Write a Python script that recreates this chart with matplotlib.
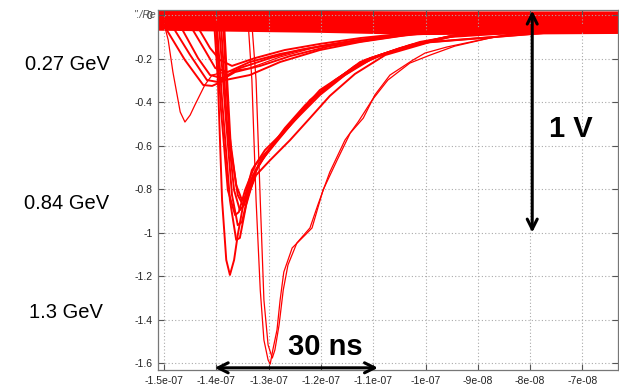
import numpy as np
import matplotlib.pyplot as plt

# oscilloscope traces, time in ns, amplitude in V
t_027_thin = [-151.1, -150.2, -149.2, -148.3, -146.9, -146.0, -145.0, -144.1, -142.2, -140.8,
              -138.3, -133.6, -127.8, -120.2, -112.5, -104.9, -95.3, -85.8, -63.0]
v_027_thin = [-0.02, -0.02, -0.115, -0.262, -0.446, -0.492, -0.46, -0.414, -0.322, -0.276,
              -0.262, -0.244, -0.193, -0.143, -0.115, -0.092, -0.069, -0.055, -0.046]

t_027_a = [-151.1, -150.4, -146.0, -142.5, -140.8, -138.3, -133.6, -127.8, -120.2, -112.5, -104.9, -95.3, -63.0]
v_027_a = [-0.023, -0.032, -0.207, -0.322, -0.326, -0.299, -0.276, -0.216, -0.161, -0.124, -0.097, -0.069, -0.046]
t_027_b = [-151.1, -148.9, -145.0, -141.8, -139.7, -136.4, -131.6, -125.9, -118.3, -110.6, -101.1, -63.0]
v_027_b = [-0.023, -0.032, -0.184, -0.299, -0.308, -0.262, -0.234, -0.189, -0.143, -0.115, -0.083, -0.046]
t_027_c = [-151.1, -147.3, -143.5, -141.2, -138.9, -135.5, -129.7, -124.0, -116.3, -108.7, -99.1, -63.0]
v_027_c = [-0.023, -0.032, -0.198, -0.276, -0.290, -0.244, -0.198, -0.161, -0.129, -0.101, -0.074, -0.046]
t_027_d = [-151.1, -145.4, -142.2, -140.2, -137.8, -133.6, -127.8, -122.1, -114.4, -104.9, -63.0]
v_027_d = [-0.023, -0.032, -0.161, -0.244, -0.262, -0.216, -0.179, -0.152, -0.120, -0.092, -0.051]
t_027_e = [-151.1, -143.9, -141.2, -139.3, -137.0, -132.6, -126.9, -120.2, -112.5, -101.1, -63.0]
v_027_e = [-0.023, -0.041, -0.152, -0.207, -0.234, -0.198, -0.161, -0.133, -0.106, -0.078, -0.051]

t_084_0 = [-151.1, -140.4, -139.7, -138.9, -138.1, -137.4, -136.6, -135.9, -134.7, -133.2,
           -130.7, -127.8, -124.0, -120.2, -114.4, -108.7, -101.1, -91.5, -63.0]
v_084_0 = [-0.032, -0.041, -0.299, -0.851, -1.126, -1.195, -1.126, -1.011, -0.851, -0.713,
           -0.621, -0.552, -0.446, -0.345, -0.253, -0.184, -0.124, -0.083, -0.051]
t_084_1 = [-151.1, -139.9, -138.9, -137.4, -136.2, -135.5, -134.3, -132.4, -129.7, -126.9,
           -123.0, -118.3, -112.5, -104.9, -95.3, -63.0]
v_084_1 = [-0.032, -0.041, -0.391, -0.851, -1.034, -1.025, -0.874, -0.713, -0.611, -0.520,
           -0.414, -0.322, -0.216, -0.152, -0.097, -0.051]
t_084_2 = [-151.1, -139.5, -138.3, -137.0, -135.9, -135.1, -133.9, -132.0, -129.3, -125.9,
           -122.1, -117.3, -111.6, -103.0, -93.4, -63.0]
v_084_2 = [-0.032, -0.041, -0.437, -0.828, -0.966, -0.952, -0.828, -0.690, -0.598, -0.506,
           -0.391, -0.299, -0.207, -0.138, -0.087, -0.051]
t_084_3 = [-151.1, -139.1, -138.0, -136.6, -135.5, -134.7, -133.6, -131.3, -128.2, -125.0,
           -121.1, -116.3, -110.6, -102.0, -91.5, -63.0]
v_084_3 = [-0.032, -0.041, -0.483, -0.805, -0.897, -0.874, -0.768, -0.667, -0.575, -0.483,
           -0.377, -0.290, -0.198, -0.133, -0.083, -0.051]
t_084_4 = [-151.1, -138.7, -137.6, -136.2, -135.1, -134.1, -133.0, -130.7, -127.8, -124.0,
           -120.2, -115.4, -109.7, -101.1, -63.0]
v_084_4 = [-0.032, -0.041, -0.529, -0.782, -0.851, -0.832, -0.736, -0.644, -0.556, -0.460,
           -0.368, -0.276, -0.193, -0.129, -0.055]
t_084_5 = [-151.1, -140.1, -139.1, -137.8, -136.4, -135.7, -134.5, -132.6, -130.1, -127.2,
           -123.6, -119.2, -113.5, -105.8, -95.3, -63.0]
v_084_5 = [-0.032, -0.041, -0.437, -0.805, -0.920, -0.906, -0.805, -0.690, -0.621, -0.543,
           -0.437, -0.336, -0.234, -0.161, -0.101, -0.051]
t_084_6 = [-151.1, -138.5, -137.2, -135.9, -134.9, -133.9, -132.4, -129.7, -125.9, -122.1,
           -118.3, -113.5, -107.7, -99.1, -63.0]
v_084_6 = [-0.032, -0.046, -0.621, -0.828, -0.874, -0.828, -0.736, -0.667, -0.575, -0.474,
           -0.372, -0.271, -0.184, -0.124, -0.055]

t_13_a = [-151.1, -133.9, -133.2, -132.4, -131.6, -130.9, -130.1, -129.7, -129.2, -128.4,
          -127.8, -127.1, -125.5, -123.0, -121.7, -119.6, -116.9, -114.4, -111.9, -109.7,
          -106.8, -102.4, -100.1, -95.9, -89.6, -81.9, -63.0]
v_13_a = [-0.032, -0.041, -0.299, -0.851, -1.264, -1.494, -1.586, -1.605, -1.540, -1.448,
          -1.310, -1.182, -1.071, -1.011, -0.979, -0.805, -0.667, -0.543, -0.474, -0.368,
          -0.276, -0.207, -0.175, -0.147, -0.115, -0.078, -0.055]
t_13_b = [-151.1, -133.2, -132.4, -131.6, -130.9, -130.1, -129.3, -128.8, -128.0, -127.2,
          -126.3, -124.6, -122.1, -120.6, -118.3, -115.4, -112.9, -110.2, -107.2, -103.0,
          -99.1, -94.4, -87.7, -80.0, -63.0]
v_13_b = [-0.032, -0.041, -0.299, -0.851, -1.310, -1.517, -1.577, -1.540, -1.425, -1.264,
          -1.149, -1.048, -0.979, -0.874, -0.722, -0.575, -0.492, -0.391, -0.299, -0.221,
          -0.184, -0.143, -0.106, -0.074, -0.055]

# noisy baseline band
band_t = [-151.5, -120.0, -100.0, -63.0]
band_hi = [0.018, 0.016, 0.014, 0.014]
band_lo = [-0.065, -0.075, -0.085, -0.08]

xticks = [-150, -140, -130, -120, -110, -100, -90, -80, -70]
xtick_labels = ['-1.5e-07', '-1.4e-07', '-1.3e-07', '-1.2e-07', '-1.1e-07',
                '-1e-07', '-9e-08', '-8e-08', '-7e-08']
yticks = [0, -0.2, -0.4, -0.6, -0.8, -1.0, -1.2, -1.4, -1.6]
ytick_labels = ['0', '-0.2', '-0.4', '-0.6', '-0.8', '-1', '-1.2', '-1.4', '-1.6']

plt.rcParams['font.family'] = ['Liberation Sans', 'DejaVu Sans']

W, H = 619, 389
fig = plt.figure(figsize=(W / 100, H / 100), dpi=100)
ax = fig.add_axes([158 / W, 1 - 370 / H, 460 / W, 360 / H])

band = ax.fill_between(band_t, band_lo, band_hi, color='red', lw=1.5, edgecolor='red')
band.set_sketch_params(scale=3, length=3, randomness=3)

group_traces = [(t_027_a, v_027_a), (t_027_b, v_027_b), (t_027_c, v_027_c),
                (t_027_d, v_027_d), (t_027_e, v_027_e),
                (t_084_0, v_084_0), (t_084_1, v_084_1), (t_084_2, v_084_2), (t_084_3, v_084_3),
                (t_084_4, v_084_4), (t_084_5, v_084_5), (t_084_6, v_084_6)]
single_traces = [(t_027_thin, v_027_thin), (t_13_a, v_13_a), (t_13_b, v_13_b)]

for t, v in group_traces:
    ax.plot(t, v, color='red', lw=1.4)
for t, v in single_traces:
    ax.plot(t, v, color='red', lw=0.9)

ax.set_xlim(-151.15, -63.2)
ax.set_ylim(-1.632, 0.023)
ax.set_xticks(xticks)
ax.set_xticklabels(xtick_labels)
ax.set_yticks(yticks)
ax.set_yticklabels(ytick_labels)
ax.tick_params(direction='in', length=4, width=0.8, colors='#555', labelcolor='#222',
               labelsize=7.5, top=True, right=True, pad=4)
for s in ax.spines.values():
    s.set_color('#777')
    s.set_linewidth(0.9)
ax.grid(True, color='#aaa', linestyle=(0, (1, 2)), lw=0.8)

ax.text(-151.6, 0.0, '"./Re', ha='right', va='center', fontsize=7.5, color='#555',
        style='italic', clip_on=False)

# arrows
arr = dict(arrowstyle='<->', color='black', lw=2.2, mutation_scale=18, shrinkA=0, shrinkB=0)
ax.annotate('', xy=(-79.6, 0.02), xytext=(-79.6, -1.0), arrowprops=arr, annotation_clip=False)
ax.annotate('', xy=(-140.3, -1.622), xytext=(-109.1, -1.622), arrowprops=arr, annotation_clip=False)

fig.text(571 / W, 1 - 129 / H, '1 V', ha='center', va='center', fontsize=21, fontweight='bold')
fig.text(325 / W, 1 - 347 / H, '30 ns', ha='center', va='center', fontsize=21, fontweight='bold')

fig.text(67 / W, 1 - 65 / H, '0.27 GeV', ha='center', va='center', fontsize=14.5)
fig.text(67 / W, 1 - 203 / H, '0.84 GeV', ha='center', va='center', fontsize=14.5)
fig.text(66 / W, 1 - 312 / H, '1.3 GeV', ha='center', va='center', fontsize=14.5)

fig.savefig('out.png', dpi=100)
